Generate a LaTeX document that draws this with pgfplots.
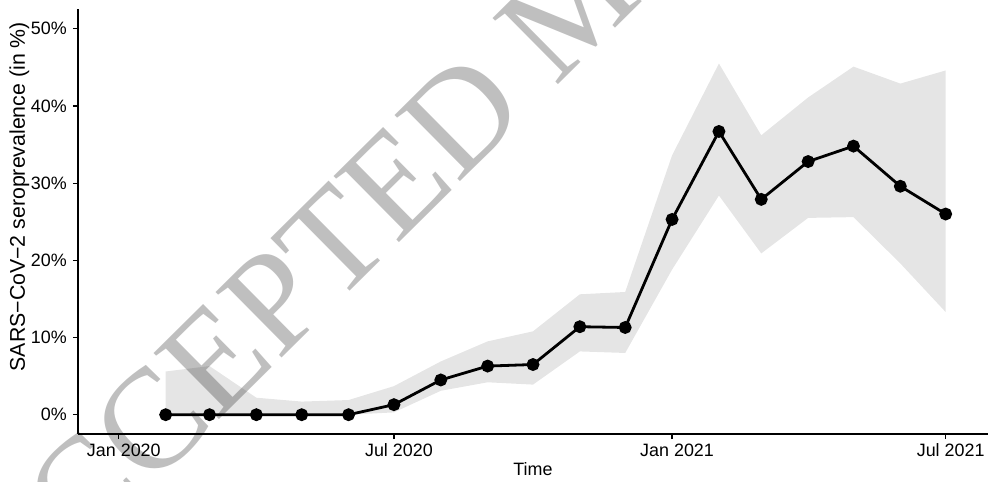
\documentclass[border=0pt]{standalone}
\usepackage{fontspec}
\setmainfont{Liberation Sans}
\newfontfamily\wmfont{Liberation Serif}
\usepackage{pgfplots}
\usepackage{pgfplotstable}
\usepgfplotslibrary{fillbetween}
\pgfplotsset{compat=1.18}
\definecolor{ribbon}{RGB}{229,229,229}

% monthly estimates (days since 1 Jan 2020), with lower / upper interval bounds
\pgfplotstableread{
day  est   lo    hi
31   0.0   0.0   5.6
60   0.0   0.0   6.3
91   0.0   0.0   2.2
121  0.0   0.0   1.7
152  0.0   0.0   1.9
182  1.3   0.3   3.7
213  4.5   3.1   6.9
244  6.3   4.2   9.5
274  6.5   3.9  10.8
305 11.4   8.2  15.6
335 11.3   8.0  15.9
366 25.3  18.8  33.6
397 36.7  28.4  45.5
425 27.9  20.9  36.2
456 32.8  25.5  41.1
486 34.8  25.6  45.1
517 29.6  19.6  42.9
547 26.0  13.3  44.6
}\sero

\begin{document}
\begin{tikzpicture}
\begin{axis}[
  at={(0,0)}, anchor=south west,
  scale only axis, width=910bp, height=424.5bp,
  xmin=-27, xmax=575, ymin=-2.5, ymax=52.5,
  axis x line*=bottom, axis y line*=left,
  axis line style={line width=1.4bp, black},
  xtick={0,182,366,547},
  xticklabels={Jan 2020, Jul 2020, Jan 2021, Jul 2021},
  ytick={0,10,20,30,40,50},
  yticklabels={0\%,10\%,20\%,30\%,40\%,50\%},
  tick align=outside, major tick length=5bp,
  tick style={line width=1.2bp, black},
  ticklabel style={font=\fontsize{17.9bp}{20bp}\selectfont, text=black},
  xticklabel style={anchor=base, inner sep=0pt, yshift=-17bp, xshift=5bp},
  yticklabel style={anchor=east, inner sep=0pt, xshift=-6bp},
  every axis x label/.style={at={(rel axis cs:0.5,0)}, yshift=-41bp, anchor=base},
  every axis y label/.style={at={(rel axis cs:0,0.559)}, xshift=-53bp, rotate=90, anchor=base},
  xlabel={Time},
  ylabel={SARS−CoV−2 seroprevalence (in \%)},
  xlabel style={font=\fontsize{17.9bp}{20bp}\selectfont},
  ylabel style={font=\fontsize{21.3bp}{24bp}\selectfont},
]
\addplot[name path=hi, draw=none, forget plot] table[x=day, y=hi]{\sero};
\addplot[name path=lo, draw=none, forget plot] table[x=day, y=lo]{\sero};
\addplot[fill=ribbon, draw=none] fill between[of=hi and lo];
\addplot[black, line width=2.8bp, mark=*, mark size=5bp, mark options={solid}]
  table[x=day, y=est]{\sero};
\end{axis}
% diagonal watermark
\node[anchor=base west, inner sep=0pt, rotate=44.7, text=black, text opacity=0.25,
      font=\wmfont\fontsize{142bp}{142bp}\selectfont]
  at (-68.9bp,-194.4bp) {ACCEPTED MANUSCRIPT};
\pgfresetboundingbox
\useasboundingbox (-78bp,-48bp) rectangle (911bp,434bp);
\end{tikzpicture}
\end{document}
